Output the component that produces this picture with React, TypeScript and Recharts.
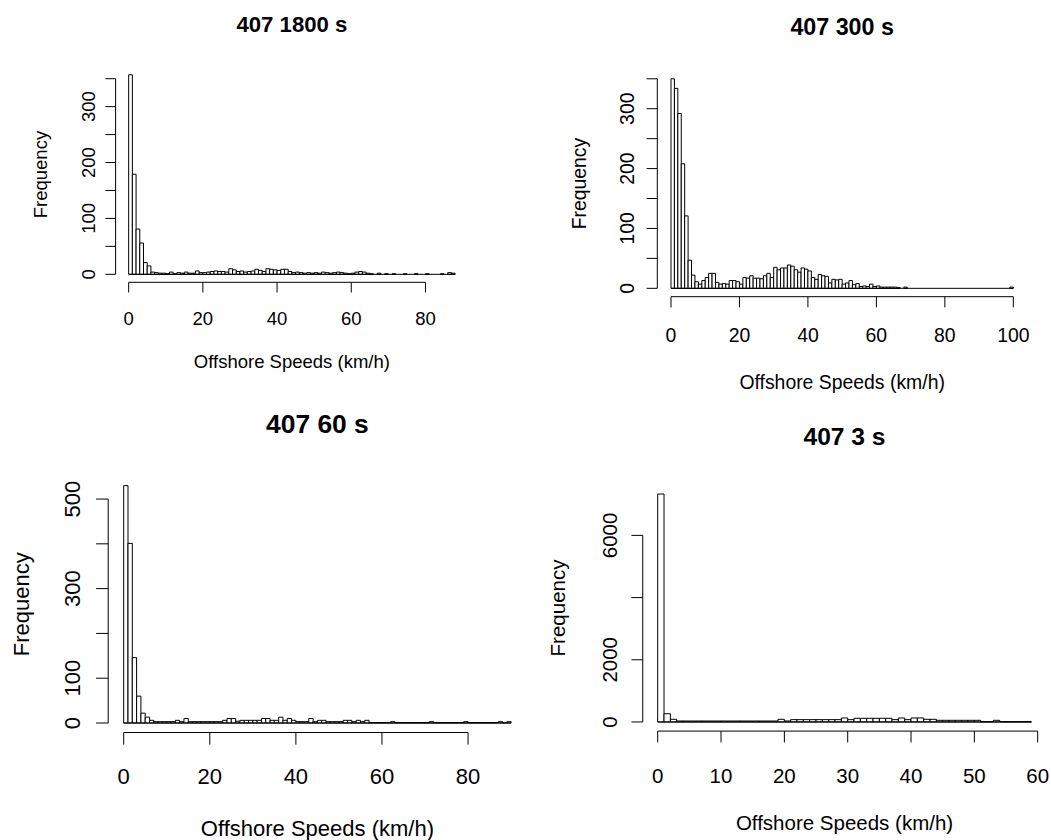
import React from 'react';
import { BarChart, Bar, XAxis, YAxis, ReferenceLine } from 'recharts';

// ---------------- data ----------------
const titles = ['407 1800 s', '407 300 s', '407 60 s', '407 3 s'];
const xAxisTitle = 'Offshore Speeds (km/h)';
const yAxisTitle = 'Frequency';

// histogram counts, 1 km/h bins starting at 0
const counts1800 = [
  357, 179, 81, 56, 21, 15, 4, 3, 2, 2, 1, 4, 1, 3, 2, 4, 2, 2, 6, 3,
  3, 4, 5, 6, 5, 5, 4, 10, 8, 5, 6, 4, 5, 6, 9, 7, 5, 10, 9, 8,
  7, 9, 9, 5, 3, 4, 3, 2, 3, 2, 3, 2, 4, 3, 2, 3, 4, 3, 2, 1,
  2, 4, 5, 4, 2, 1, 0, 2, 0, 1, 0, 1, 0, 0, 1, 0, 0, 1, 0, 0,
  1, 0, 0, 0, 1, 0, 3, 2,
];
const counts300 = [
  350, 334, 292, 208, 121, 47, 22, 11, 7, 13, 18, 25, 25, 10, 7, 8, 7, 13, 13, 11,
  7, 18, 17, 21, 17, 17, 16, 21, 25, 18, 35, 31, 34, 34, 39, 37, 31, 27, 34, 32,
  29, 18, 15, 23, 21, 20, 9, 15, 14, 15, 7, 9, 13, 6, 8, 3, 4, 3, 7, 3,
  4, 2, 2, 2, 2, 2, 1, 0, 2, 0, 0, 0, 0, 0, 0, 0, 0, 0, 0, 0,
  0, 0, 0, 0, 0, 0, 0, 0, 0, 0, 0, 0, 0, 0, 0, 0, 0, 0, 0, 2,
];
const counts60 = [
  530, 401, 146, 60, 22, 13, 6, 3, 3, 3, 3, 3, 6, 3, 10, 3, 3, 3, 3, 3,
  3, 3, 3, 6, 10, 10, 4, 6, 6, 6, 6, 6, 10, 10, 6, 6, 13, 6, 10, 6,
  3, 3, 3, 10, 3, 6, 6, 3, 3, 3, 3, 6, 6, 3, 6, 3, 6, 1, 1, 1,
  1, 1, 3, 1, 1, 1, 1, 1, 1, 1, 1, 3, 1, 1, 1, 1, 1, 1, 1, 3,
  1, 1, 1, 1, 1, 1, 1, 3, 1, 3,
];
const counts3 = [
  7330, 265, 86, 32, 32, 32, 32, 32, 32, 32, 32, 32, 32, 32, 32, 32, 32, 32, 32, 86,
  32, 75, 75, 75, 75, 75, 75, 75, 75, 129, 75, 118, 118, 118, 118, 118, 118, 75, 129, 75,
  129, 129, 86, 86, 54, 54, 54, 54, 54, 54, 54, 10, 10, 54, 10, 10, 10, 10, 10,
];

const xTicks1800 = [0, 20, 40, 60, 80];
const xTicks300 = [0, 20, 40, 60, 80, 100];
const xTicks60 = [0, 20, 40, 60, 80];
const xTicks3 = [0, 10, 20, 30, 40, 50, 60];

const yTicks1800 = [0, 50, 100, 150, 200, 250, 300, 350];
const yLabels1800 = [0, 100, 200, 300];
const yTicks300 = [0, 50, 100, 150, 200, 250, 300, 350];
const yLabels300 = [0, 100, 200, 300];
const yTicks60 = [0, 100, 200, 300, 400, 500];
const yLabels60 = [0, 100, 300, 500];
const yTicks3 = [0, 2000, 4000, 6000];
const yLabels3 = [0, 2000, 6000];

// ---------------- layout ----------------
const W = 1051;
const H = 840;
const FONT = '"Liberation Sans", Arial, Helvetica, sans-serif';

type Layout = {
  l: number; t: number; r: number; b: number;
  fs: number; tl: number;
  yTickBase: number; xTickBase: number; yLabBase: number; xLabBase: number; titleBase: number;
};

const layouts: Layout[] = [
  { l: 115.6, t: 66.8, r: 468.2, b: 282.3, fs: 18.5, tl: 10.2, yTickBase: 95, xTickBase: 325, yLabBase: 47.2, xLabBase: 368, titleBase: 31.5 },
  { l: 657.3, t: 70.4, r: 1027.0, b: 296.7, fs: 19.4, tl: 10.7, yTickBase: 633.5, xTickBase: 342.2, yLabBase: 585.6, xLabBase: 389, titleBase: 35 },
  { l: 108.2, t: 476.1, r: 526.6, b: 732.5, fs: 22, tl: 12.1, yTickBase: 80, xTickBase: 784, yLabBase: 28.5, xLabBase: 836, titleBase: 433 },
  { l: 642.75, t: 484.9, r: 1046.3, b: 731.1, fs: 20.5, tl: 11.3, yTickBase: 616.7, xTickBase: 783, yLabBase: 564.7, xLabBase: 830, titleBase: 445 },
];

type PanelProps = {
  counts: number[];
  xTicks: number[];
  yTicks: number[];
  yLabels: number[];
  lay: Layout;
};

const Panel = ({ counts, xTicks, yTicks, yLabels, lay }: PanelProps) => {
  const N = counts.length;
  const data = counts.map((c, i) => ({ bin: i, count: c }));
  const yMax = Math.max(...counts);
  const xDom: [number, number] = [-0.04 * N, 1.04 * N];
  const yDom: [number, number] = [-0.04 * yMax, 1.04 * yMax];
  const plotW = lay.r - lay.l;
  const pad = (plotW * 0.04) / 1.08;
  const band = (plotW - 2 * pad) / N;
  const yAxisW = 40;
  const xAxisH = 40;
  const margin = {
    top: lay.t,
    left: lay.l - yAxisW,
    right: W - lay.r,
    bottom: H - lay.b - xAxisH,
  };

  const XTick = (p: any) => (
    <text x={p.x} y={lay.xTickBase} textAnchor="middle" fontSize={lay.fs} fontFamily={FONT} fill="#000">
      {p.payload.value}
    </text>
  );
  const YTick = (p: any) => {
    if (!yLabels.includes(p.payload.value)) return <g />;
    return (
      <text
        transform={`translate(${lay.yTickBase},${p.y}) rotate(-90)`}
        textAnchor="middle"
        fontSize={lay.fs}
        fontFamily={FONT}
        fill="#000"
      >
        {p.payload.value}
      </text>
    );
  };

  return (
    <div style={{ position: 'absolute', left: 0, top: 0 }}>
      <BarChart width={W} height={H} data={data} margin={margin}>
        <XAxis
          xAxisId="num"
          dataKey="bin"
          type="number"
          domain={xDom}
          allowDataOverflow
          ticks={xTicks}
          interval={0}
          tickSize={lay.tl}
          tickMargin={0}
          axisLine={false}
          stroke="#000"
          tickLine={{ stroke: '#000', strokeWidth: 1 }}
          height={xAxisH}
          tick={XTick}
        />
        <XAxis xAxisId="cat" dataKey="bin" type="category" hide height={0} padding={{ left: pad, right: pad }} />
        <YAxis
          type="number"
          domain={yDom}
          allowDataOverflow
          ticks={yTicks}
          interval={0}
          tickSize={lay.tl}
          tickMargin={0}
          axisLine={false}
          stroke="#000"
          tickLine={{ stroke: '#000', strokeWidth: 1 }}
          width={yAxisW}
          tick={YTick}
        />
        <Bar
          xAxisId="cat"
          dataKey="count"
          fill="#ffffff"
          stroke="#000"
          strokeWidth={1}
          barSize={band - 0.001}
          isAnimationActive={false}
        />
        <ReferenceLine
          xAxisId="num"
          segment={[{ x: 0, y: 0 }, { x: N, y: 0 }]}
          stroke="#000"
          strokeWidth={1}
          ifOverflow="visible"
        />
        <ReferenceLine
          xAxisId="num"
          segment={[{ x: xDom[0], y: yTicks[0] }, { x: xDom[0], y: yTicks[yTicks.length - 1] }]}
          stroke="#000"
          strokeWidth={1}
          ifOverflow="visible"
        />
        <ReferenceLine
          xAxisId="num"
          segment={[{ x: xTicks[0], y: yDom[0] }, { x: xTicks[xTicks.length - 1], y: yDom[0] }]}
          stroke="#000"
          strokeWidth={1}
          ifOverflow="visible"
        />
      </BarChart>
    </div>
  );
};

const panelCounts = [counts1800, counts300, counts60, counts3];
const panelXTicks = [xTicks1800, xTicks300, xTicks60, xTicks3];
const panelYTicks = [yTicks1800, yTicks300, yTicks60, yTicks3];
const panelYLabels = [yLabels1800, yLabels300, yLabels60, yLabels3];

export default function App() {
  return (
    <div style={{ position: 'absolute', left: 0, top: 0, width: W, height: H, background: '#fff', overflow: 'hidden' }}>
      {panelCounts.map((c, i) => (
        <Panel key={i} counts={c} xTicks={panelXTicks[i]} yTicks={panelYTicks[i]} yLabels={panelYLabels[i]} lay={layouts[i]} />
      ))}
      <svg width={W} height={H} style={{ position: 'absolute', left: 0, top: 0, pointerEvents: 'none' }}>
        {layouts.map((lay, i) => {
          const cx = (lay.l + lay.r) / 2;
          const cy = (lay.t + lay.b) / 2;
          return (
            <g key={i} fontFamily={FONT} fill="#000">
              <text x={cx} y={lay.titleBase} textAnchor="middle" fontSize={lay.fs * 1.2} fontWeight="bold">
                {titles[i]}
              </text>
              <text x={cx} y={lay.xLabBase} textAnchor="middle" fontSize={lay.fs}>
                {xAxisTitle}
              </text>
              <text transform={`translate(${lay.yLabBase},${cy}) rotate(-90)`} textAnchor="middle" fontSize={lay.fs}>
                {yAxisTitle}
              </text>
            </g>
          );
        })}
      </svg>
    </div>
  );
}
